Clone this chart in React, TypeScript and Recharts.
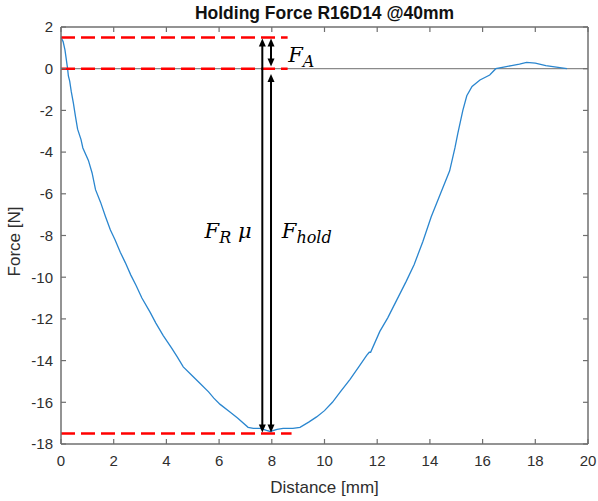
import React from 'react';
import { LineChart, Line, XAxis, YAxis, ReferenceLine, ReferenceDot } from 'recharts';

// Distance [mm]
const distance = [
  0, 0.08, 0.15, 0.25, 0.28, 0.33, 0.39, 0.47, 0.55, 0.63, 0.76, 0.83, 1.04, 1.18, 1.31, 1.5, 1.69,
  1.875, 2.05, 2.25, 2.44, 2.65, 2.85, 3.07, 3.39, 3.6, 3.88, 4.2, 4.4, 4.64, 5.0, 5.28, 5.6, 5.8,
  6.04, 6.4, 6.7, 7.1, 7.3, 7.56, 7.8, 7.94, 8.2, 8.43, 8.8, 9.07, 9.4, 9.7, 10.0, 10.3, 10.6, 10.97,
  11.3, 11.6, 11.7, 11.75, 12.1, 12.4, 12.74, 13.1, 13.4, 13.73, 14.05, 14.4, 14.75, 14.95, 15.06,
  15.25, 15.4, 15.6, 15.9, 16.27, 16.5, 16.8, 17.1, 17.4, 17.67, 18.0, 18.4, 18.8, 19.2,
];
// Force [N]
const force = [
  1.5, 1.3, 0.9, 0.0, -0.35, -0.6, -1.1, -1.65, -2.3, -2.9, -3.4, -3.8, -4.4, -5.0, -5.8, -6.4, -7.1,
  -7.74, -8.2, -8.8, -9.3, -9.9, -10.4, -11.0, -11.7, -12.2, -12.8, -13.4, -13.8, -14.3, -14.75, -15.1,
  -15.5, -15.8, -16.1, -16.45, -16.75, -17.2, -17.25, -17.25, -17.35, -17.4, -17.3, -17.25, -17.25,
  -17.2, -16.95, -16.7, -16.4, -16.0, -15.5, -14.9, -14.3, -13.75, -13.6, -13.6, -12.6, -11.95, -11.1,
  -10.2, -9.4, -8.3, -7.1, -6.0, -4.9, -3.8, -3.1, -2.0, -1.3, -0.85, -0.54, -0.3, 0.0, 0.08, 0.15,
  0.22, 0.3, 0.27, 0.15, 0.08, 0.0,
];

const xTicks = [0, 2, 4, 6, 8, 10, 12, 14, 16, 18, 20];
const yTicks = [-18, -16, -14, -12, -10, -8, -6, -4, -2, 0, 2];
const X_MIN = xTicks[0];
const X_MAX = xTicks[xTicks.length - 1];
const Y_MIN = yTicks[0];
const Y_MAX = yTicks[yTicks.length - 1];

// red dashed guide levels
const levelValues = [1.5, 0, -17.5];
const levelEnds = [8.6, 8.6, 8.75];

// double-headed arrows
const arrowXs = [7.64, 7.97, 7.97];
const arrowFrom = [1.45, 1.45, -0.25];
const arrowTo = [-17.45, 0.1, -17.45];

// math labels
const labelMain = ['F', 'F', 'F'];
const labelSub = ['A', 'R', 'hold'];
const labelSuffix = ['', ' μ', ''];
const labelX = [8.62, 5.45, 8.38];
const labelY = [0.32, -8.12, -8.12];

const data = distance.map((d, i) => ({ x: d, f: force[i] }));

const W = 598;
const H = 501;
const M = { top: 27, right: 10, bottom: 0, left: 0 };
const X_AXIS_H = 57;
const Y_AXIS_W = 61;
const PLOT_W = W - M.left - M.right - Y_AXIS_W;
const PLOT_H = H - M.top - M.bottom - X_AXIS_H;

const AX = '#6f6f6f';
const TXT = '#2e2e2e';
const FONT = 'Liberation Sans, Arial, sans-serif';
const MATHFONT = 'DejaVu Serif, serif';
const TICK = 5;
const X_TS = 6;
const X_TM = 5;
const Y_TS = 4;
const Y_TM = 4;

const XTick = (p: any) => {
  const { x, y, payload } = p;
  const axisY = y - X_TS - X_TM;
  const topY = axisY - PLOT_H;
  return (
    <g>
      <line x1={x} y1={axisY} x2={x} y2={axisY - TICK} stroke={AX} strokeWidth={1.2} />
      <line x1={x} y1={topY} x2={x} y2={topY + TICK} stroke={AX} strokeWidth={1.2} />
      <text x={x} y={y} dy="0.71em" textAnchor="middle" fill={TXT} fontSize={15} fontFamily={FONT}>
        {payload.value}
      </text>
    </g>
  );
};

const YTick = (p: any) => {
  const { x, y, payload } = p;
  const axisX = x + Y_TS + Y_TM;
  const rightX = axisX + PLOT_W;
  return (
    <g>
      <line x1={axisX} y1={y} x2={axisX + TICK} y2={y} stroke={AX} strokeWidth={1.2} />
      <line x1={rightX} y1={y} x2={rightX - TICK} y2={y} stroke={AX} strokeWidth={1.2} />
      <text x={x} y={y} dy="0.355em" textAnchor="end" fill={TXT} fontSize={15} fontFamily={FONT}>
        {payload.value}
      </text>
    </g>
  );
};

const ArrowShape = (p: any) => {
  const { x1, y1, y2 } = p;
  const h = 8;
  const w = 3.5;
  const top = Math.min(y1, y2);
  const bot = Math.max(y1, y2);
  return (
    <g>
      <line x1={x1} y1={top + h - 1} x2={x1} y2={bot - h + 1} stroke="#000" strokeWidth={2} />
      <polygon points={`${x1},${top} ${x1 - w},${top + h} ${x1 + w},${top + h}`} fill="#000" />
      <polygon points={`${x1},${bot} ${x1 - w},${bot - h} ${x1 + w},${bot - h}`} fill="#000" />
    </g>
  );
};

const makeLabel = (i: number) => (p: any) => (
  <text x={p.cx} y={p.cy} fontFamily={MATHFONT} fontStyle="italic" fontSize={21} fill="#000">
    {labelMain[i]}
    <tspan fontSize={16} dy={5}>{labelSub[i]}</tspan>
    {labelSuffix[i] ? <tspan fontSize={21} dy={-5}>{labelSuffix[i]}</tspan> : null}
  </text>
);

export default function App() {
  return (
    <div style={{ position: 'absolute', left: 0, top: 0, width: W, height: H, background: '#fff' }}>
      <LineChart width={W} height={H} data={data} margin={M}>
        <XAxis
          dataKey="x"
          type="number"
          domain={[X_MIN, X_MAX]}
          ticks={xTicks}
          height={X_AXIS_H}
          tickLine={false}
          tickSize={X_TS}
          tickMargin={X_TM}
          axisLine={{ stroke: AX, strokeWidth: 1.5 }}
          tick={XTick}
          label={{
            content: (props: any) => {
              const vb = props.viewBox;
              const top = vb.y - PLOT_H;
              const right = vb.x + vb.width;
              return (
                <g>
                  <line x1={vb.x} y1={top} x2={right} y2={top} stroke={AX} strokeWidth={1.5} />
                  <line x1={right} y1={top} x2={right} y2={vb.y} stroke={AX} strokeWidth={1.5} />
                  <text x={vb.x + vb.width / 2} y={vb.y + 49} textAnchor="middle" fill={TXT} fontSize={17} fontFamily={FONT}>
                    Distance [mm]
                  </text>
                  <text x={vb.x + vb.width / 2} y={19} textAnchor="middle" fill="#111" fontSize={17.5} fontWeight="bold" fontFamily={FONT}>
                    Holding Force R16D14 @40mm
                  </text>
                </g>
              );
            },
          }}
        />
        <YAxis
          type="number"
          domain={[Y_MIN, Y_MAX]}
          ticks={yTicks}
          width={Y_AXIS_W}
          tickLine={false}
          tickSize={Y_TS}
          tickMargin={Y_TM}
          axisLine={{ stroke: AX, strokeWidth: 1.5 }}
          tick={YTick}
          label={{
            content: (props: any) => {
              const vb = props.viewBox;
              const cx = 20;
              const cy = vb.y + vb.height / 2 + 6;
              return (
                <text x={cx} y={cy} transform={`rotate(-90, ${cx}, ${cy})`} textAnchor="middle" fill={TXT} fontSize={17} fontFamily={FONT}>
                  Force [N]
                </text>
              );
            },
          }}
        />
        <ReferenceLine
          segment={[{ x: X_MIN, y: 0 }, { x: X_MAX, y: 0 }]}
          stroke="#8a8a8a"
          strokeWidth={1.2}
        />
        <Line
          dataKey="f"
          type="linear"
          stroke="#2a86cf"
          strokeWidth={1.3}
          dot={false}
          isAnimationActive={false}
        />
        {levelValues.map((v, i) => (
          <ReferenceLine
            key={`lvl${i}`}
            segment={[{ x: X_MIN, y: v }, { x: levelEnds[i], y: v }]}
            stroke="#ff0000"
            strokeWidth={2.5}
            strokeDasharray="14 6"
          />
        ))}
        {arrowXs.map((ax, i) => (
          <ReferenceLine
            key={`arr${i}`}
            segment={[{ x: ax, y: arrowFrom[i] }, { x: ax, y: arrowTo[i] }]}
            shape={ArrowShape}
          />
        ))}
        {labelX.map((lx, i) => (
          <ReferenceDot key={`lab${i}`} x={lx} y={labelY[i]} r={0} shape={makeLabel(i)} />
        ))}
      </LineChart>
    </div>
  );
}
